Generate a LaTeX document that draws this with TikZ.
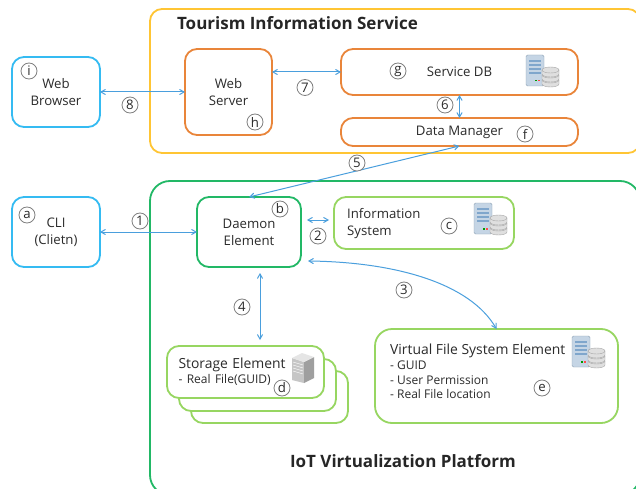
\documentclass[tikz,border=0pt]{standalone}
\usepackage{fontspec}
\setmainfont{Open Sans}
\usepackage{tikz}
\usetikzlibrary{arrows,calc,positioning}
\definecolor{skyb}{HTML}{35BBF2}
\definecolor{orng}{HTML}{E9853A}
\definecolor{yllw}{HTML}{FFC534}
\definecolor{grn}{HTML}{22B866}
\definecolor{lgrn}{HTML}{97D661}
\definecolor{flow}{HTML}{4A9FDD}
\definecolor{txt}{HTML}{2B2B2B}
\definecolor{srvfill}{HTML}{C5D5E5}
\definecolor{srvline}{HTML}{8FA3B5}
\definecolor{srvbar}{HTML}{7FA6CC}
\newcommand{\bodyfont}{\fontsize{13.2}{17}\selectfont}
\newcommand{\largefont}{\fontsize{13.9}{17}\selectfont}
\newcommand{\smallfont}{\fontsize{12}{14.7}\selectfont}
\newcommand{\titlefont}{\fontsize{17}{20}\selectfont\bfseries}
\tikzstyle{box}=[rectangle,rounded corners=12pt,line width=1.8pt,outer sep=0pt,fill=white,align=center,text=txt,font=\bodyfont]
\tikzstyle{bb}=[box,draw=skyb]
\tikzstyle{ob}=[box,draw=orng]
\tikzstyle{gb}=[box,draw=grn]
\tikzstyle{lb}=[box,draw=lgrn]
\tikzstyle{frame}=[rectangle,line width=1.8pt,outer sep=0pt,minimum width=490pt]
\tikzstyle{mk}=[circle,draw=gray,line width=0.8pt,fill=white,inner sep=0pt,minimum size=16pt,text=txt,font=\bodyfont]
\tikzstyle{title}=[text=black!85,font=\titlefont]
\tikzstyle{plain}=[inner sep=0pt,align=left,text=txt,font=\bodyfont]
\tikzstyle{lnk}=[draw=flow,line width=1pt,angle 60-angle 60]
\tikzset{
	dbicon/.pic={
		\draw[srvline,fill=srvfill,rounded corners=1.5pt] (0,0) rectangle (18,-31);
		\foreach \yy in {-6,-10,-14,-18}
			\draw[srvbar,line width=1.1pt] (3,\yy) -- (15,\yy);
		\fill[green!60!black] (9,-25) rectangle (11,-26.5);
		\fill[red!70] (12,-25) rectangle (14,-26.5);
		\foreach \yy in {-25,-20,-15}{
			\draw[gray!70,fill=gray!25] (16,\yy) -- (16,\yy-4) arc (180:360:8.5 and 3) -- (33,\yy) arc (0:180:8.5 and 3) -- cycle;
			\draw[gray!70] (16,\yy) arc (180:360:8.5 and 3);
		}
	},
	towericon/.pic={
		\fill[gray!45] (0,-5) -- (12,-9) -- (12,-30) -- (0,-27) -- cycle;
		\fill[gray!75] (12,-9) -- (22,-4) -- (22,-25) -- (12,-30) -- cycle;
		\fill[gray!20] (0,-5) -- (10,0) -- (22,-4) -- (12,-9) -- cycle;
		\foreach \yy in {-9,-12,-15,-18}
			\draw[white] (1,\yy) -- (11,\yy-3);
	}
}
\begin{document}
\begin{tikzpicture}[x=1pt,y=1pt]
    \clip (0,0) rectangle (636,488);
    \fill[white] (0,0) rectangle (636,488);

    \node (tourism) [frame,draw=yllw,rounded corners=12pt,minimum height=144pt] at (395,407) {};
    \node (iotplat) [frame,draw=grn,rounded corners=20pt,minimum height=314pt] at (395,150) {};
    \node (tourismtitle) [title] at (297.5,465) {Tourism Information Service};
    \node (iottitle) [title] at (403,27) {IoT Virtualization Platform};

    \node (browser) [bb,minimum width=88pt,minimum height=70pt] at (56,396) {Web\\Browser};
    \node (cli) [bb,minimum width=88pt,minimum height=70pt,below=70pt of browser] {CLI\\(Clietn)};
    \node (server) [ob,minimum width=87pt,minimum height=86pt,right=85pt of browser] {Web\\Server};
    \node (servicedb) [ob,minimum width=237pt,minimum height=46pt,right=69pt of server,yshift=20pt] {Service DB};
    \node (datamgr) [ob,minimum width=237pt,minimum height=28pt,below=23pt of servicedb] {Data Manager};
    \node (daemon) [gb,minimum width=104pt,minimum height=70pt,right=97pt of cli] {Daemon\\Element};
    \node (infosys) [lb,minimum width=180pt,minimum height=52pt,right=33pt of daemon,yshift=9pt] {};
    \node (infotext) [plain,anchor=west] at ($(infosys.west)+(13,-1)$) {Information\\System};

    \node (storage3) [lb,minimum width=157pt,minimum height=52pt] at (269.5,91) {};
    \node (storage2) [lb,minimum width=157pt,minimum height=52pt] at (257.5,103) {};
    \node (storage1) [lb,minimum width=157pt,minimum height=52pt,text width=134pt,align=left] at (245.5,116) {{\largefont Storage Element}\\[-2pt]{\smallfont - Real File(GUID)}};
    \node (vfs) [lb,minimum width=243pt,minimum height=94pt,rounded corners=17pt] at (496.5,112) {};
    \node (vfstext) [plain,anchor=north west] at ($(vfs.north west)+(15,-15)$) {{\largefont Virtual File System Element}\\[-2pt]{\smallfont - GUID}\\[-2pt]{\smallfont - User Permission}\\[-3pt]{\smallfont - Real File location}};

    \pic at (526,433) {dbicon};
    \pic at (474,285) {dbicon};
    \pic at (572,152) {dbicon};
    \pic at (292,135) {towericon};

    \draw[lnk] (browser.east) -- (browser.east -| server.west);
    \draw[lnk] (server.east |- servicedb.west) -- (servicedb.west);
    \draw[lnk] (servicedb.south) -- (datamgr.north);
    \draw[lnk] (daemon.north) -- (datamgr.south);
    \draw[lnk] (cli.east) -- (daemon.west);
    \draw[lnk,shorten <=6pt,shorten >=5pt] (daemon.east |- 0,268) -- (infosys.west |- 0,268);
    \draw[lnk] ([xshift=7pt,yshift=6pt]daemon.south east) .. controls (395,226) and (470,205) .. (vfs.north);
    \draw[lnk,shorten <=6pt,shorten >=6pt] ([xshift=11pt]daemon.south) -- ([xshift=11pt]daemon.south |- storage1.north);

    \node (mki) [mk] at (29,417) {i};
    \node (mkh) [mk] at (255,366) {h};
    \node (mkg) [mk] at (398,417) {g};
    \node (mkf) [mk] at (525,354) {f};
    \node (mka) [mk] at (27,273) {a};
    \node (mkb) [mk] at (280,279) {b};
    \node (mkc) [mk] at (449,262) {c};
    \node (mkd) [mk] at (282,100) {d};
    \node (mke) [mk] at (542,100) {e};
    \node (mk1) [mk] at (140,267) {1};
    \node (mk2) [mk] at (318,252) {2};
    \node (mk3) [mk] at (404,198) {3};
    \node (mk4) [mk] at (242,181) {4};
    \node (mk5) [mk] at (357,325) {5};
    \node (mk6) [mk] at (445,383) {6};
    \node (mk7) [mk] at (305,400.5) {7};
    \node (mk8) [mk] at (130,383) {8};
\end{tikzpicture}
\end{document}
